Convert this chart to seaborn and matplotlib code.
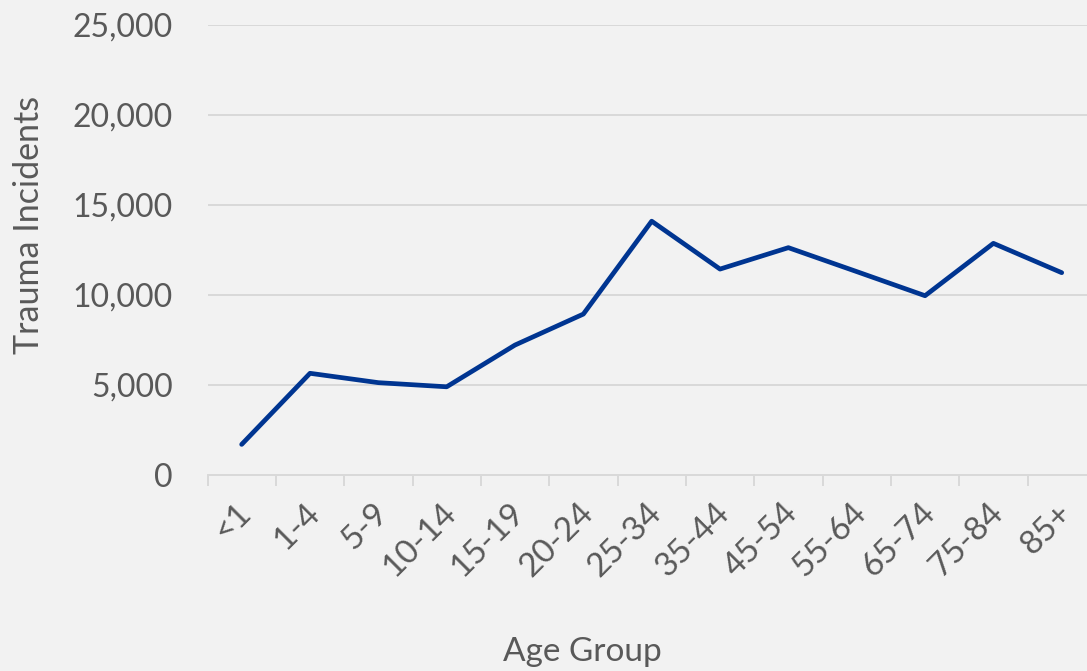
import matplotlib
matplotlib.use("Agg")
import matplotlib.pyplot as plt
import matplotlib.ticker as mticker
import matplotlib.transforms as mtransforms
import numpy as np
import pandas as pd
import seaborn as sns

# data
age_groups = ["<1", "1-4", "5-9", "10-14", "15-19", "20-24", "25-34",
              "35-44", "45-54", "55-64", "65-74", "75-84", "85+"]
incidents = [1700, 5650, 5130, 4900, 7220, 8940, 14100,
             11440, 12630, 11300, 9960, 12870, 11240]
y_ticks = [0, 5000, 10000, 15000, 20000, 25000]

df = pd.DataFrame({"Age Group": age_groups, "Trauma Incidents": incidents})

sns.set_theme(style="white")
plt.rcParams["font.family"] = ["Lato", "DejaVu Sans"]

bg = "#F2F2F2"
grid_c = "#D9D9D9"
text_c = "#595959"

fig = plt.figure(figsize=(10.87, 6.71), dpi=100, facecolor=bg)
ax = fig.add_axes([207.5 / 1087, 1 - 475 / 671, 1 - 207.5 / 1087, 450 / 671])
ax.set_facecolor(bg)

sns.lineplot(data=df, x="Age Group", y="Trauma Incidents", sort=False,
             color="#003591", linewidth=3.4, ax=ax, zorder=3)

ax.set_ylim(0, 25000)
ax.set_xlim(-0.5, 12.37)
ax.set_yticks(y_ticks)
ax.yaxis.set_major_formatter(mticker.StrMethodFormatter("{x:,.0f}"))
ax.grid(axis="y", color=grid_c, linewidth=1.4)
ax.grid(axis="x", visible=False)

for s in ["top", "right", "left"]:
    ax.spines[s].set_visible(False)
ax.spines["bottom"].set_color(grid_c)
ax.spines["bottom"].set_linewidth(1.4)
ax.spines["bottom"].set_zorder(2)

# labels at category centres, tick marks on the boundaries
ax.set_xticks(np.arange(len(age_groups)))
ax.set_xticklabels(age_groups)
ax.set_xticks(np.arange(len(age_groups)) - 0.5, minor=True)
ax.tick_params(axis="x", which="major", length=0, pad=24, labelsize=24, labelcolor=text_c)
ax.tick_params(axis="x", which="minor", length=8, width=1.4, color=grid_c, bottom=True)
ax.tick_params(axis="y", length=0, pad=25, labelsize=23, labelcolor=text_c)
# nudge the rotated labels a little to the right, like the original
shift = mtransforms.ScaledTranslation(5 / 100, 0, fig.dpi_scale_trans)
for lbl in ax.get_xticklabels():
    lbl.set_rotation(45)
    lbl.set_rotation_mode("anchor")
    lbl.set_ha("right")
    lbl.set_va("center")
    lbl.set_transform(lbl.get_transform() + shift)

ax.set_xlabel("")
ax.set_ylabel("")
fig.text(29.5 / 1087, 1 - 225 / 671, "Trauma Incidents", rotation=90,
         ha="center", va="center", fontsize=24.5, color=text_c)
fig.text(582 / 1087, 1 - 652 / 671, "Age Group",
         ha="center", va="center", fontsize=24, color=text_c)

fig.savefig("out.png", dpi=100, facecolor=bg)
